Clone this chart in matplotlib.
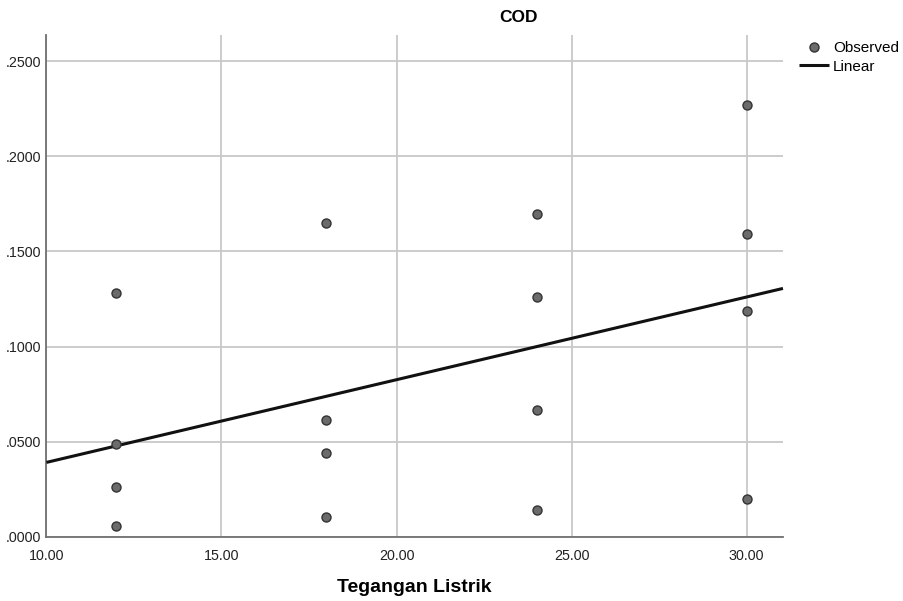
import numpy as np
import matplotlib
matplotlib.use('Agg')
import matplotlib.pyplot as plt

plt.rcParams['font.family'] = ['Liberation Sans', 'DejaVu Sans']

# data
tegangan = [12, 12, 12, 12, 18, 18, 18, 18, 24, 24, 24, 24, 30, 30, 30, 30]
cod = [0.1282, 0.0488, 0.0263, 0.0058,
       0.1649, 0.0615, 0.0441, 0.0105,
       0.1696, 0.1261, 0.0667, 0.0142,
       0.2269, 0.1591, 0.1187, 0.0200]
xticks = [10, 15, 20, 25, 30]
yticks = [0.0, 0.05, 0.10, 0.15, 0.20, 0.25]

x = np.array(tegangan, dtype=float)
y = np.array(cod)
slope, intercept = np.polyfit(x, y, 1)

fig = plt.figure(figsize=(9.04, 6.01), dpi=100)
ax = fig.add_axes([0.0514, 0.1065, 0.8147, 0.8353])

xmin, xmax = 10, 31.04
ax.set_xlim(xmin, xmax)
ax.set_ylim(0, 0.2637)

ax.set_xticks(xticks)
ax.set_xticklabels([f'{v:.2f}' for v in xticks])
ax.set_yticks(yticks)
ax.set_yticklabels([f'{v:.4f}'.lstrip('0') for v in yticks])
ax.tick_params(length=0, labelsize=10.3, colors='#222222')
ax.tick_params(axis='x', pad=9)
ax.tick_params(axis='y', pad=4)

ax.grid(True, color='#c8c8c8', linewidth=1.3)
ax.set_axisbelow(True)
for s in ['top', 'right']:
    ax.spines[s].set_visible(False)
for s in ['left', 'bottom']:
    ax.spines[s].set_color('#707070')
    ax.spines[s].set_linewidth(1.3)

xs = np.array([xmin, xmax])
ax.plot(xs, intercept + slope * xs, color='#111111', linewidth=2.2,
        label='Linear', zorder=3, solid_capstyle='butt', clip_on=False)
ax.plot(x, y, 'o', markersize=6.5, markerfacecolor='#6b6b6b',
        markeredgecolor='#333333', markeredgewidth=1.0, label='Observed', zorder=4)

handles, labels = ax.get_legend_handles_labels()
leg = ax.legend(handles[::-1], labels[::-1], loc='upper left',
                bbox_to_anchor=(1.013, 1.0), frameon=False, fontsize=11,
                handlelength=2.0, handletextpad=0.25, labelspacing=0.3,
                borderaxespad=0)

fig.text(519 / 904, 1 - 18 / 601, 'COD', ha='center', va='center',
         fontsize=12.5, fontweight='bold')
fig.text(414.5 / 904, 1 - 588 / 601, 'Tegangan Listrik', ha='center',
         va='center', fontsize=14, fontweight='bold')

fig.savefig('out.png', dpi=100)
